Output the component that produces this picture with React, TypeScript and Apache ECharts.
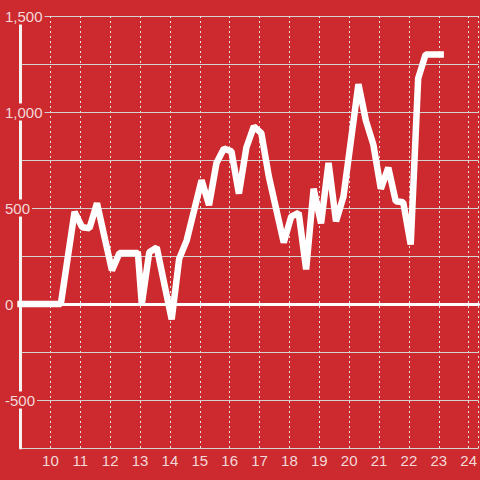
import React, { useEffect, useRef } from "react";
import * as echarts from "echarts";

// hours of day (x) and values (y)
const times = [8.893, 10.35, 10.81, 11.06, 11.31, 11.56, 12.06, 12.31, 12.93, 13.06, 13.31, 13.56, 14.06, 14.31, 14.56, 15.06, 15.31, 15.56, 15.81, 16.06, 16.31, 16.56, 16.81, 17.06, 17.31, 17.81, 18.06, 18.31, 18.56, 18.81, 19.06, 19.31, 19.56, 19.81, 20.31, 20.56, 20.81, 21.06, 21.31, 21.56, 21.81, 22.06, 22.31, 22.56, 23.17];
const values = [0, 0, 480, 400, 395, 525, 175, 265, 265, 0, 270, 295, -80, 235, 330, 645, 515, 735, 810, 795, 575, 815, 925, 890, 665, 320, 455, 475, 180, 600, 420, 735, 430, 560, 1145, 955, 830, 600, 710, 535, 530, 310, 1175, 1300, 1300];

const xMin = 9;
const xMax = 24.333;
const yMin = -750;
const yMax = 1500;

const BG = "#cc2a2e";
const LABEL = "#f3d8d9";
const FONT = "'Liberation Sans', Arial, sans-serif";

export default function App() {
  const ref = useRef<HTMLDivElement>(null);
  useEffect(() => {
    if (!ref.current) return;
    const chart = echarts.init(ref.current, undefined, { renderer: "svg" });
    const fmt = (v: number) => {
      if (v % 500 !== 0) return "";
      const s = Math.abs(v).toLocaleString("en-US");
      return "{a|" + (v < 0 ? "-" : "") + s + "}";
    };
    chart.setOption({
      animation: false,
      backgroundColor: BG,
      grid: { left: 20, right: 0, top: 16, bottom: 32, containLabel: false },
      xAxis: [
        {
          type: "value",
          min: xMin,
          max: xMax,
          interval: 1,
          axisLine: { show: false, onZero: false },
          axisTick: { show: false },
          axisLabel: {
            color: LABEL,
            fontSize: 15,
            fontFamily: FONT,
            margin: 5,
            showMaxLabel: false,
            formatter: (v: number) => (v === 9 ? "" : String(v)),
          },
          splitLine: { show: true, lineStyle: { color: "#e3e3e3", width: 1, type: [2, 3] } },
        },
        {
          type: "value",
          min: xMin,
          max: xMax,
          position: "bottom",
          axisLine: { show: true, onZero: true, lineStyle: { color: "#ffffff", width: 3 } },
          axisTick: { show: false },
          axisLabel: { show: false },
          splitLine: { show: false },
        },
      ],
      yAxis: [
        {
          type: "value",
          min: yMin,
          max: yMax,
          interval: 250,
          z: 0,
          axisLine: { show: false, onZero: false },
          axisTick: { show: false },
          axisLabel: { show: false },
          splitLine: { show: true, lineStyle: { color: "#d2d2d2", width: 1 } },
        },
        {
          type: "value",
          min: yMin,
          max: yMax,
          interval: 250,
          position: "left",
          z: 1,
          axisLine: { show: true, onZero: false, lineStyle: { color: "#f4f4f4", width: 3 } },
          axisTick: { show: false },
          splitLine: { show: false },
          axisLabel: {
            align: "left",
            margin: 17.5,
            formatter: fmt,
            rich: {
              a: {
                color: LABEL,
                fontSize: 15,
                fontFamily: FONT,
                backgroundColor: BG,
                padding: [1, 2, 1, 2],
              },
            },
          },
        },
      ],
      series: [
        {
          type: "line",
          xAxisIndex: 0,
          yAxisIndex: 0,
          data: times.map((t, i) => [t, values[i]]),
          showSymbol: false,
          symbol: "none",
          clip: false,
          z: 3,
          lineStyle: { color: "#ffffff", width: 6.5, join: "bevel", cap: "butt" },
        },
      ],
    });
    return () => chart.dispose();
  }, []);
  return (
    <div
      ref={ref}
      style={{ position: "fixed", left: 0, top: 0, width: 480, height: 480 }}
    />
  );
}
